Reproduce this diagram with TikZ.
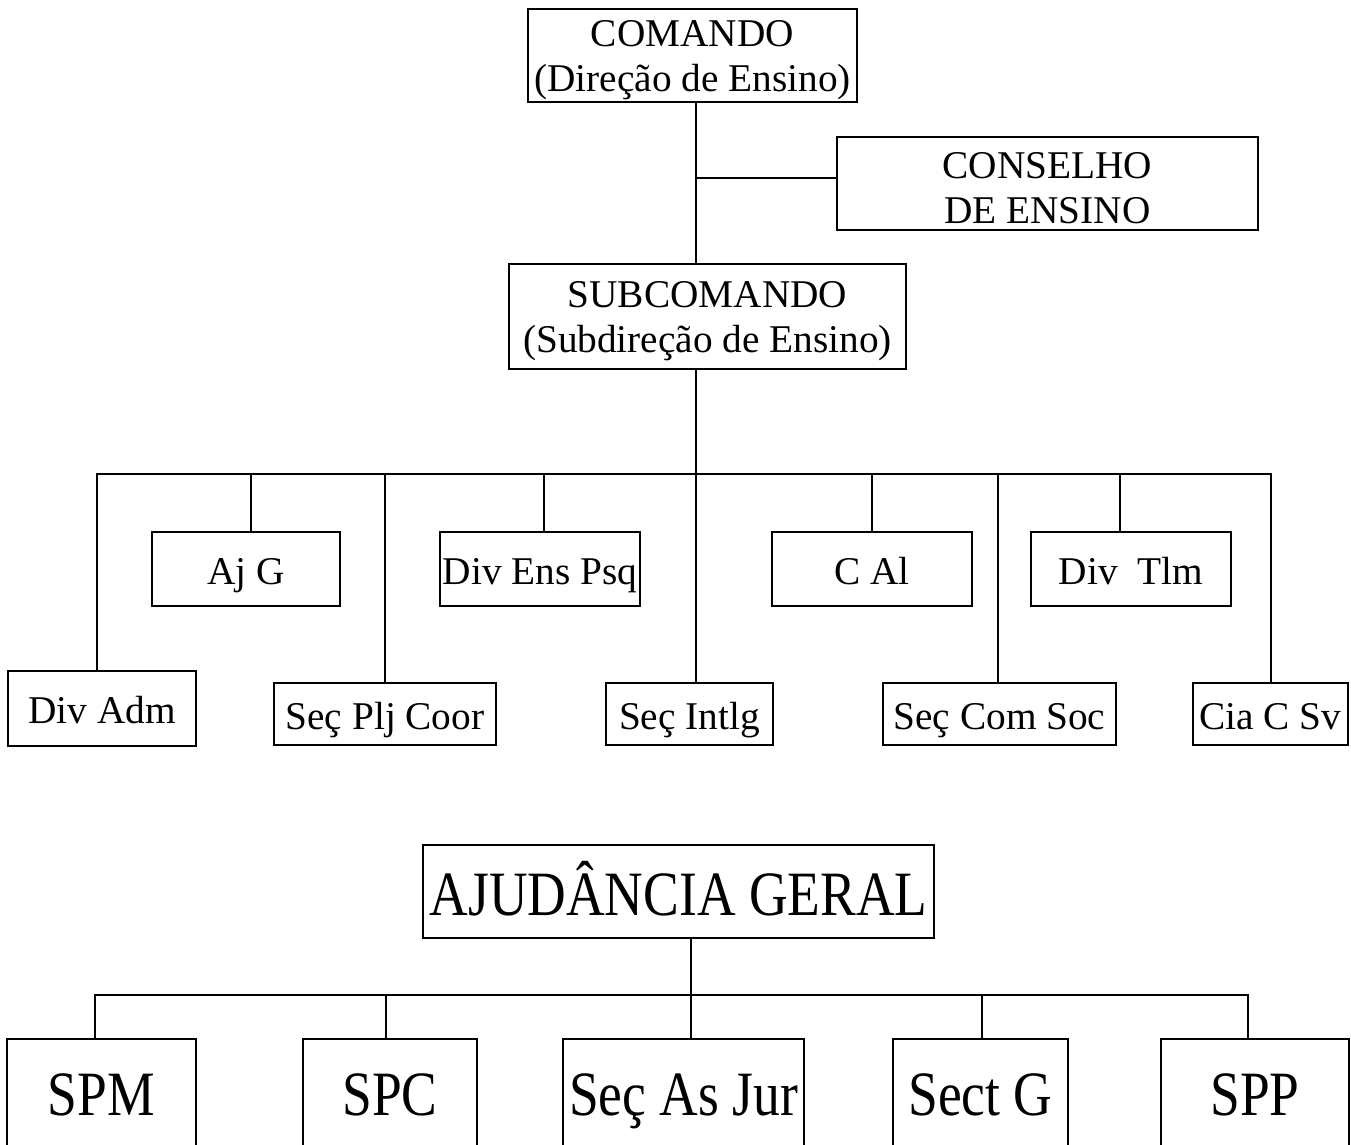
\documentclass[tikz,border=0pt]{standalone}
\usepackage{fontspec}
\setmainfont{Liberation Serif}
\newcommand{\tstrut}{\rule{0pt}{35pt}}
\newcommand{\tall}[1]{\scalebox{1}[1.18]{#1}}
\begin{document}
\begin{tikzpicture}[x=1pt,y=-1pt,
  every node/.style={inner sep=0pt, outer sep=0pt},
  box/.style={draw, line width=1.9pt, align=center, font=\fontsize{39.3}{44.5}\selectfont},
  mid/.style={box, minimum height=74pt, text height=30pt, text depth=0pt},
  low/.style={box, minimum height=62pt, text height=30pt, text depth=0pt},
  big/.style={draw, line width=1.9pt, font=\fontsize{53.5}{60}\selectfont, text depth=0pt},
  conn/.style={line width=1.9pt}]
\useasboundingbox (0,0) rectangle (1351,1144);
\clip (0,0) rectangle (1351,1144);

% top part
\node[box, minimum width=329pt, minimum height=93pt] (cmd) at (692.5,55.5) {\tstrut COMANDO\\(Direção de Ensino)};
\node[box, minimum width=421pt, minimum height=93pt] (cons) at (1047.5,183.5) {\tstrut CONSELHO\\DE ENSINO};
\node[box, minimum width=397pt, minimum height=105pt] (sub) at (707.5,316.5) {\tstrut SUBCOMANDO\\(Subdireção de Ensino)};

% upper row
\node[mid, minimum width=188pt] (ajg) at (246,569) {Aj G};
\node[mid, minimum width=200pt] (dep) at (540,569) {Div Ens Psq};
\node[mid, minimum width=200pt] (cal) at (872,569) {C Al};
\node[mid, minimum width=200pt] (dtl) at (1131,569) {Div~~Tlm};

% lower row
\node[box, minimum width=188pt, minimum height=75pt, text height=30pt, text depth=0pt] (dadm) at (102,708.5) {Div Adm};
\node[low, minimum width=222pt] (spc) at (385,714) {Seç Plj Coor};
\node[low, minimum width=167pt] (sint) at (689.5,714) {Seç Intlg};
\node[low, minimum width=233pt] (scs) at (999.5,714) {Seç Com Soc};
\node[low, minimum width=155pt] (cia) at (1270.5,714) {Cia C Sv};

% connectors top
\coordinate (j1) at (696,178);
\coordinate (bus) at (696,474);
\draw[conn] (cmd.south -| j1) -- (sub.north -| j1);
\draw[conn] (j1) -- (j1 -| cons.west);
\draw[conn] (sub.south -| bus) -- (sint.north -| bus);
\coordinate (bl) at (97,474);
\coordinate (br) at (1271,474);
\draw[conn] (dadm.north -| bl) -- (bl) -- (br) -- (br |- cia.north);
\coordinate (cA) at (251,474);
\coordinate (cB) at (544,474);
\coordinate (cC) at (872,474);
\coordinate (cD) at (1120,474);
\coordinate (cE) at (385,474);
\coordinate (cF) at (998,474);
\draw[conn] (cA) -- (cA |- ajg.north);
\draw[conn] (cB) -- (cB |- dep.north);
\draw[conn] (cC) -- (cC |- cal.north);
\draw[conn] (cD) -- (cD |- dtl.north);
\draw[conn] (cE) -- (cE |- spc.north);
\draw[conn] (cF) -- (cF |- scs.north);

% bottom part
\node[big, minimum width=511pt, minimum height=93pt, text height=47pt] (aju) at (678.5,891.5) {\tall{AJUDÂNCIA GERAL}};
\node[big, minimum width=189pt, minimum height=114pt, text height=38pt] (spm) at (101.5,1096) {\tall{SPM}};
\node[big, minimum width=174pt, minimum height=114pt, text height=38pt] (spcb) at (390,1096) {\tall{SPC}};
\node[big, minimum width=241pt, minimum height=114pt, text height=38pt] (saj) at (683.5,1096) {\tall{Seç As Jur}};
\node[big, minimum width=175pt, minimum height=114pt, text height=38pt] (sg) at (980.5,1096) {\tall{Sect G}};
\node[big, minimum width=188pt, minimum height=114pt, text height=38pt] (spp) at (1255,1096) {\tall{SPP}};

\coordinate (b2) at (691,995);
\coordinate (b2l) at (95,995);
\coordinate (b2r) at (1248,995);
\coordinate (b2a) at (386,995);
\coordinate (b2b) at (982,995);
\draw[conn] (aju.south -| b2) -- (b2 |- saj.north);
\draw[conn] (spm.north -| b2l) -- (b2l) -- (b2r) -- (b2r |- spp.north);
\draw[conn] (b2a) -- (b2a |- spcb.north);
\draw[conn] (b2b) -- (b2b |- sg.north);
\end{tikzpicture}
\end{document}
